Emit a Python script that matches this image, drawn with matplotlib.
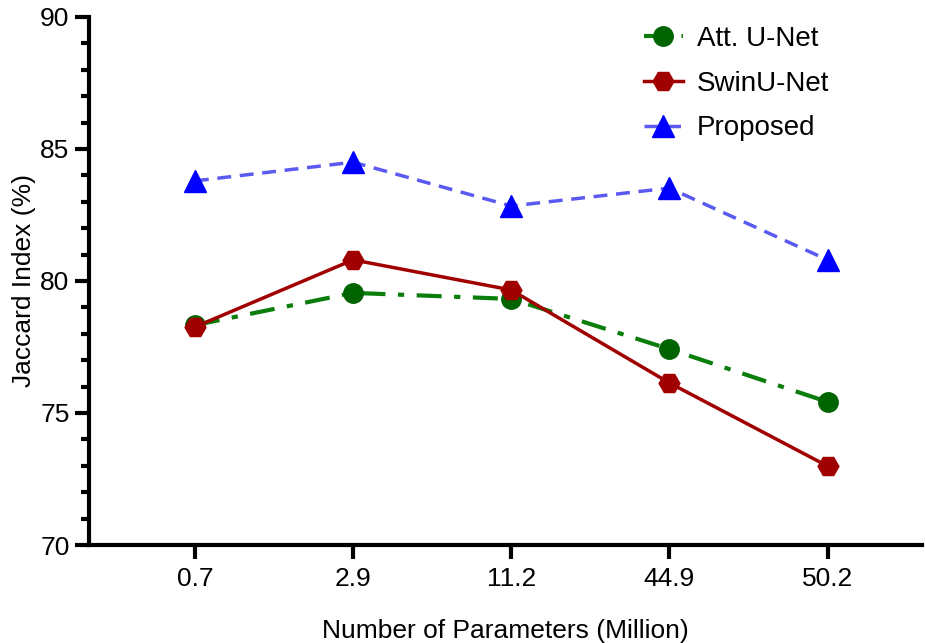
import matplotlib.pyplot as plt
from matplotlib.ticker import MultipleLocator

plt.rcParams['font.family'] = ['Liberation Sans', 'DejaVu Sans']

params = ["0.7", "2.9", "11.2", "44.9", "50.2"]
att_unet = [78.33, 79.55, 79.32, 77.42, 75.42]
swin_unet = [78.26, 80.80, 79.66, 76.14, 72.99]
proposed = [83.79, 84.50, 82.84, 83.52, 80.80]

x = list(range(len(params)))

fig = plt.figure(figsize=(9.25, 6.43), dpi=100)
ax = fig.add_axes([0.0962, 0.1524, 0.901, 0.8212])

ax.plot(x, att_unet, color="#0a7d0a", linestyle=(0, (6, 3, 1.5, 3)), lw=3,
        marker="o", ms=14, mfc="#006400", mec="#006400", label="Att. U-Net")
ax.plot(x, swin_unet, color="#a00000", linestyle="-", lw=2.5,
        marker="H", ms=15, mfc="#a00000", mec="#a00000", label="SwinU-Net")
ax.plot(x, proposed, color="#5a5af0", linestyle=(0, (4, 2.5)), lw=2.5,
        marker="^", ms=16, mfc="#0000ff", mec="#0000ff", label="Proposed")

ax.set_xlim(-0.67, 4.6)
ax.set_ylim(70, 90)
ax.set_xticks(x)
ax.set_xticklabels(params)
ax.yaxis.set_major_locator(MultipleLocator(5))
ax.yaxis.set_minor_locator(MultipleLocator(1))

for s in ["top", "right"]:
    ax.spines[s].set_visible(False)
for s in ["left", "bottom"]:
    ax.spines[s].set_linewidth(3)

ax.tick_params(axis="both", which="major", width=3, length=10, labelsize=19, pad=4)
ax.tick_params(axis="y", which="minor", width=3, length=6)
ax.tick_params(axis="x", which="major", pad=6)

ax.set_xlabel("Number of Parameters (Million)", fontsize=19, labelpad=20)
ax.set_ylabel("Jaccard Index (%)", fontsize=19, labelpad=3)

ax.legend(loc="upper left", bbox_to_anchor=(0.646, 1.015), frameon=False,
          fontsize=20, handlelength=1.4, labelspacing=0.68, handletextpad=0.5,
          borderpad=0.1)

fig.savefig("out.png", dpi=100)
